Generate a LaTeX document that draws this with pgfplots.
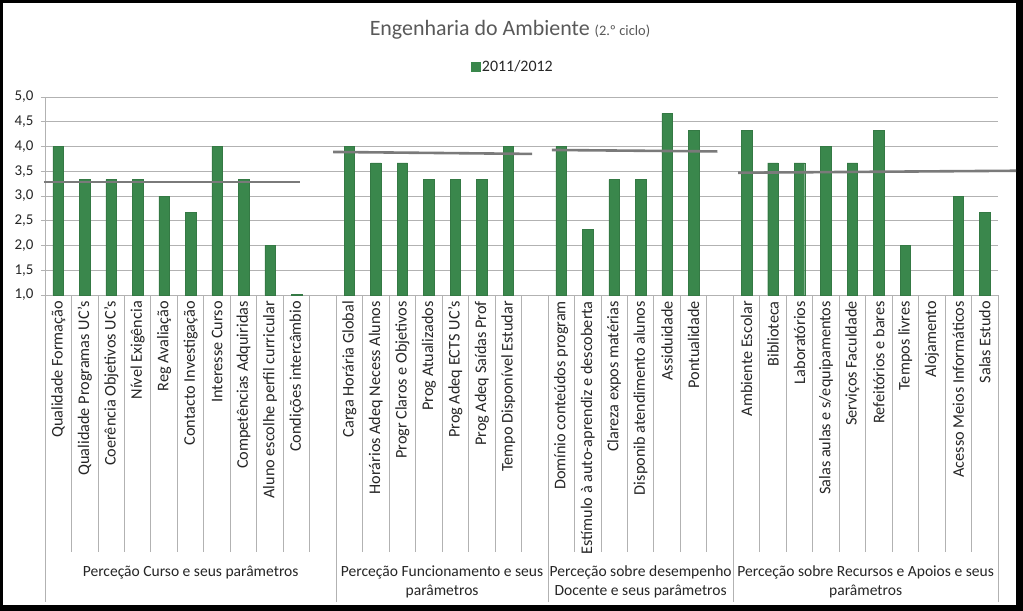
\documentclass[border=0pt]{standalone}
\usepackage{pgfplots}
\pgfplotsset{compat=1.18}
\usepackage{fontspec}
\setmainfont{Carlito}
\definecolor{barg}{RGB}{58,135,76}
\definecolor{gridg}{RGB}{178,178,178}
\definecolor{avgg}{RGB}{122,122,122}
\definecolor{titleg}{RGB}{89,89,89}
\definecolor{txt}{RGB}{38,38,38}
\begin{document}
\begin{tikzpicture}[x=1bp,y=1bp]
\fill[black] (-45,-316) rectangle (978,295);
\fill[white] (-42,-310) rectangle (971,292);
\begin{axis}[at={(0,0)}, anchor=south west, scale only axis,
  width=953bp, height=198bp,
  xmin=-0.5, xmax=35.5, ymin=1, ymax=5,
  ybar, bar width=10.5bp, clip=false,
  axis x line*=bottom, axis y line*=left,
  axis line style={gridg, line width=0.8bp},
  ytick={1,1.5,...,5}, ymajorgrids, grid style={gridg, line width=0.8bp},
  major y tick style={gridg, line width=0.8bp},
  major tick length=4bp, tick align=outside,
  major x tick style={draw=none},
  yticklabel style={font=\fontsize{15}{17}\selectfont, text=txt, xshift=-4bp, /pgf/number format/fixed, /pgf/number format/fixed zerofill, /pgf/number format/precision=1, /pgf/number format/use comma, /pgf/number format/assume math mode=true},
  xtick={0,...,35},
  xticklabels={Qualidade Formação, Qualidade Programas UC's, Coerência Objetivos UC's, Nível Exigência, Reg Avaliação, Contacto Investigação, Interesse Curso, Competências Adquiridas, Aluno escolhe perfil curricular, Condições intercâmbio, {}, Carga Horária Global, Horários Adeq Necess Alunos, Progr Claros e Objetivos, Prog Atualizados, Prog Adeq ECTS UC's, Prog Adeq Saídas Prof, Tempo Disponível Estudar, {}, Domínio conteúdos program, Estímulo à auto-aprendiz e descoberta, Clareza expos matérias, Disponib atendimento alunos, Assiduidade, Pontualidade, {}, Ambiente Escolar, Biblioteca, Laboratórios, Salas aulas e s/equipamentos, Serviços Faculdade, Refeitórios e bares, Tempos livres, Alojamento, Acesso Meios Informáticos, Salas Estudo},
  xticklabel style={rotate=90, anchor=east, font=\fontsize{16.3}{18}\selectfont, text=txt, inner sep=2bp},
  legend style={at={(0.491,1.151)}, anchor=center, draw=none, fill=none, font=\fontsize{16}{18}\selectfont, text=txt, inner sep=0pt},
  legend image code/.code={\fill[barg] (0bp,-4bp) rectangle (8.5bp,4.5bp);},
]
\addplot[fill=barg, draw=barg!90!black] coordinates {
(0,4.0) (1,3.33) (2,3.33) (3,3.33) (4,3.0) (5,2.67) (6,4.0) (7,3.33) (8,2.0) (9,1.02)
(11,4.0) (12,3.67) (13,3.67) (14,3.33) (15,3.33) (16,3.33) (17,4.0)
(19,4.0) (20,2.33) (21,3.33) (22,3.33) (23,4.67) (24,4.33)
(26,4.33) (27,3.67) (28,3.67) (29,4.0) (30,3.67) (31,4.33) (32,2.0) (34,3.0) (35,2.67)
};
\addlegendentry{2011/2012}
\addplot[sharp plot, forget plot, avgg, line width=2.6bp] coordinates {(-0.54,3.285) (9.13,3.285)};
\addplot[sharp plot, forget plot, avgg, line width=2.6bp] coordinates {(10.38,3.89) (17.9,3.85)};
\addplot[sharp plot, forget plot, avgg, line width=2.6bp] coordinates {(18.65,3.93) (24.9,3.90)};
\addplot[sharp plot, forget plot, avgg, line width=2.6bp] coordinates {(25.68,3.47) (36.18,3.51)};
\pgfplotsinvokeforeach{-0.5,0.5,...,35.5}{\draw[gridg, line width=0.8bp] (axis cs:#1,1) -- ++(0bp,-257bp);}
\pgfplotsinvokeforeach{-0.5,10.5,18.5,25.5,35.5}{\draw[gridg, line width=0.8bp] (axis cs:#1,1) -- ++(0bp,-307bp);}
\node[anchor=north, align=center, font=\fontsize{15.6}{19}\selectfont, text=txt, inner sep=0, yshift=-271bp] at (axis cs:5,1) {Perceção Curso e seus parâmetros};
\node[anchor=north, align=center, font=\fontsize{15.6}{19}\selectfont, text=txt, inner sep=0, yshift=-271bp] at (axis cs:14.5,1) {Perceção Funcionamento e seus\\parâmetros};
\node[anchor=north, align=center, font=\fontsize{15.6}{19}\selectfont, text=txt, inner sep=0, yshift=-271bp] at (axis cs:22,1) {Perceção sobre desempenho\\Docente e seus parâmetros};
\node[anchor=north, align=center, font=\fontsize{15.6}{19}\selectfont, text=txt, inner sep=0, yshift=-271bp] at (axis cs:30.5,1) {Perceção sobre Recursos e Apoios e seus\\parâmetros};
\end{axis}
\node[text=titleg] at (465,265) {\fontsize{22}{24}\selectfont Engenharia do Ambiente \fontsize{14.5}{16}\selectfont(2.º ciclo)};
\end{tikzpicture}
\end{document}
